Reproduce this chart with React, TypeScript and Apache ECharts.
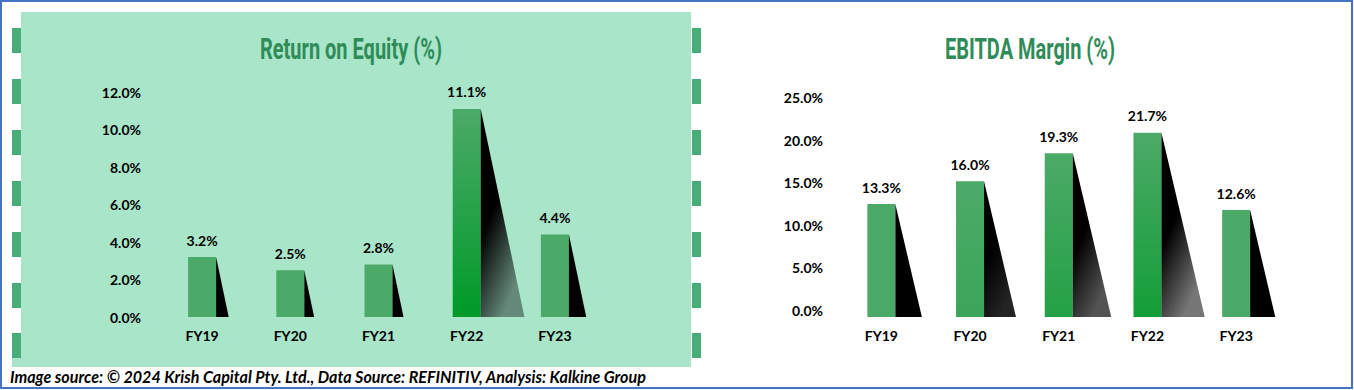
import React, { useEffect, useRef } from 'react';
import * as echarts from 'echarts';

const categories = ['FY19', 'FY20', 'FY21', 'FY22', 'FY23'];
const roeValues = [3.2, 2.5, 2.8, 11.1, 4.4];
const ebitdaValues = [13.3, 16.0, 19.3, 21.7, 12.6];
const roeAxis = { min: 0, max: 12, interval: 2 };
const ebitdaAxis = { min: 0, max: 25, interval: 5 };
const roeTitle = 'Return on Equity (%)';
const ebitdaTitle = 'EBITDA Margin (%)';
const sourceText = 'Image source: © 2024 Krish Capital Pty. Ltd., Data Source: REFINITIV, Analysis: Kalkine Group';

const FONT = 'Lato, "Noto Sans", "DejaVu Sans", sans-serif';
const PANEL = '#a8e5c9';
const DASH = '#49ad7a';
const TITLE_GREEN = '#2f8c58';

function hexToRgb(h: string) {
  const n = parseInt(h.slice(1), 16);
  return [(n >> 16) & 255, (n >> 8) & 255, n & 255];
}
function mix(a: string, b: string, t: number) {
  const A = hexToRgb(a), B = hexToRgb(b);
  const c = A.map((v, i) => Math.round(v + (B[i] - v) * t));
  return `rgb(${c[0]},${c[1]},${c[2]})`;
}

function makeRender(ratio: number) {
  return (params: any, api: any) => {
    const i = api.value(0);
    const v = api.value(1);
    const top = api.coord([i, v]);
    const base = api.coord([i, 0]);
    const half = 14;
    const h = base[1] - top[1];
    const t = Math.max(0, Math.min(1, (h - 115) / 90));
    const x0 = top[0] - half;
    const x1 = top[0] + half;
    const bottomGreen = mix('#4caa68', '#009a28', t);
    return {
      type: 'group',
      children: [
        {
          type: 'rect',
          shape: { x: x0, y: top[1], width: half * 2, height: h },
          style: {
            fill: new echarts.graphic.LinearGradient(0, 0, 0, 1, [
              { offset: 0, color: '#4caa68' },
              { offset: 1, color: bottomGreen },
            ]),
          },
        },
        {
          type: 'polygon',
          shape: { points: [[x1, top[1]], [x1, base[1]], [x1 + ratio * h, base[1]]] },
          style: {
            fill: new echarts.graphic.LinearGradient(0, 0, 0.5, 1, [
              { offset: 0, color: 'rgba(0,0,0,1)' },
              { offset: 0.5, color: 'rgba(0,0,0,1)' },
              { offset: 1, color: `rgba(0,0,0,${1 - 0.6 * t})` },
            ]),
          },
        },
        {
          type: 'text',
          x: top[0],
          y: top[1] - 10,
          style: {
            text: v.toFixed(1) + '%',
            align: 'center',
            verticalAlign: 'bottom',
            fontFamily: FONT,
            fontWeight: 'bold',
            fontSize: 14,
            fill: '#000',
          },
        },
      ],
    };
  };
}

export default function App() {
  const ref = useRef<HTMLDivElement>(null);
  useEffect(() => {
    if (!ref.current) return;
    const chart = echarts.init(ref.current, null, { renderer: 'svg' });
    const dashYs = [28, 79, 130, 181, 232, 283, 333];
    const dashes: any[] = [];
    dashYs.forEach((y) => {
      dashes.push({ type: 'rect', z: -5, shape: { x: 12, y, width: 9, height: 25 }, style: { fill: DASH } });
      dashes.push({ type: 'rect', z: -5, shape: { x: 692, y, width: 9, height: 25 }, style: { fill: DASH } });
    });
    const axisLabel = {
      fontFamily: FONT,
      fontWeight: 'bold' as const,
      fontSize: 14,
      color: '#000',
    };
    const titleStyle = {
      align: 'center',
      verticalAlign: 'middle',
      fontFamily: 'Roboto, sans-serif',
      fontWeight: 'bold',
      fontSize: 29,
      fill: TITLE_GREEN,
    };
    chart.setOption({
      animation: false,
      backgroundColor: '#ffffff',
      grid: [
        { left: 158, top: 92, width: 441, height: 225, outerBoundsMode: 'none', containLabel: false },
        { left: 837, top: 104.75, width: 443.5, height: 212.25, outerBoundsMode: 'none', containLabel: false },
      ],
      xAxis: [0, 1].map((g) => ({
        type: 'category',
        gridIndex: g,
        data: categories,
        axisLine: { show: false },
        axisTick: { show: false },
        axisLabel: { ...axisLabel, margin: 11 },
      })),
      yAxis: [
        {
          type: 'value',
          gridIndex: 0,
          ...roeAxis,
          splitLine: { show: false },
          axisLine: { show: false },
          axisTick: { show: false },
          axisLabel: { ...axisLabel, margin: 17, formatter: (v: number) => v.toFixed(1) + '%' },
        },
        {
          type: 'value',
          gridIndex: 1,
          ...ebitdaAxis,
          splitLine: { show: false },
          axisLine: { show: false },
          axisTick: { show: false },
          axisLabel: { ...axisLabel, margin: 14, verticalAlign: 'bottom', formatter: (v: number) => v.toFixed(1) + '%' },
        },
      ],
      series: [
        {
          type: 'custom',
          xAxisIndex: 0,
          yAxisIndex: 0,
          renderItem: makeRender(0.21),
          encode: { x: 0, y: 1 },
          data: roeValues.map((v, i) => [i, v]),
        },
        {
          type: 'custom',
          xAxisIndex: 1,
          yAxisIndex: 1,
          renderItem: makeRender(0.235),
          encode: { x: 0, y: 1 },
          data: ebitdaValues.map((v, i) => [i, v]),
        },
      ],
      graphic: {
        elements: [
          { type: 'rect', z: -10, shape: { x: 21, y: 12, width: 670, height: 355 }, style: { fill: PANEL } },
          { type: 'rect', z: -10, shape: { x: 12, y: 358, width: 10, height: 9 }, style: { fill: PANEL } },
          ...dashes,
          {
            type: 'rect',
            z: 50,
            shape: { x: 1, y: 1, width: 1351, height: 387 },
            style: { fill: 'none', stroke: '#4472c4', lineWidth: 2 },
          },
          {
            type: 'text',
            z: 50,
            x: 351,
            y: 49,
            scaleX: 0.69,
            style: { text: roeTitle, ...titleStyle },
          },
          {
            type: 'text',
            z: 50,
            x: 1030,
            y: 49,
            scaleX: 0.69,
            style: { text: ebitdaTitle, ...titleStyle },
          },
          {
            type: 'text',
            z: 50,
            x: 10,
            y: 376,
            style: {
              text: sourceText,
              align: 'left',
              verticalAlign: 'middle',
              fontFamily: FONT,
              fontStyle: 'italic',
              fontWeight: 'bold',
              fontSize: 16.1,
              fill: '#000',
            },
          },
        ],
      },
    });
    return () => chart.dispose();
  }, []);
  return <div ref={ref} style={{ position: 'absolute', left: 0, top: 0, width: 1354, height: 390 }} />;
}
